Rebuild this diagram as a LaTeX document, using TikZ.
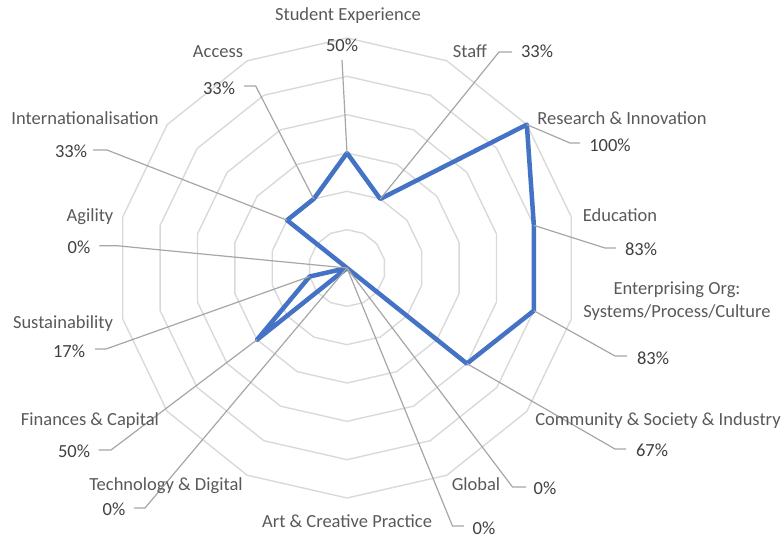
\documentclass[tikz,border=0pt]{standalone}
\usepackage{fontspec}
\setmainfont{Carlito}
\definecolor{gridc}{HTML}{D9D9D9}
\definecolor{leadc}{HTML}{A6A6A6}
\definecolor{txtc}{HTML}{595959}
\definecolor{valc}{HTML}{404040}
\definecolor{serc}{HTML}{4472C4}
\begin{document}
\begin{tikzpicture}[x=1pt,y=-1pt,
  gridline/.style={draw=gridc,line width=1.4pt},
  leader/.style={draw=leadc,line width=1.2pt},
  series/.style={draw=serc,line width=4.5pt,line join=round},
  cat/.style={text=txtc,font=\fontsize{18.5}{22}\selectfont,inner sep=0pt,text height=12pt,text depth=0pt,anchor=center},
  val/.style={cat,text=valc}]
\useasboundingbox (0,0) rectangle (784,535);
\coordinate (O) at (347,268);
\begin{scope}[shift={(O)}]
  \foreach \r in {1,...,6}
    \draw[gridline] (-90:{\r*230/6}) \foreach \k in {1,...,13} { -- ({-90+\k*360/14}:{\r*230/6}) } -- cycle;
  \foreach \v [count=\k from 0] in {3,2,6,5,5,4,0,0,0,3,1,0,2,2}
    \coordinate (p\k) at ({-90+\k*360/14}:{\v*230/6});
\end{scope}
\draw[series] (p0) -- (p1) -- (p2) -- (p3) -- (p4) -- (p5) -- (p6) -- (p7) -- (p8) -- (p9) -- (p10) -- (p11) -- (p12) -- (p13) -- cycle;
% leader points
\coordinate (a0) at (342,60);
\coordinate (a1) at (499,52);   \coordinate (b1) at (512,52);
\coordinate (a2) at (570,143);  \coordinate (b2) at (580,143);
\coordinate (a3) at (605,248);  \coordinate (b3) at (616,248);
\coordinate (a4) at (615,356);  \coordinate (b4) at (627,356);
\coordinate (a5) at (615,449);  \coordinate (b5) at (626,449);
\coordinate (a6) at (512.5,487);\coordinate (b6) at (526,487);
\coordinate (a7) at (452.5,526);\coordinate (b7) at (464,526);
\coordinate (a8) at (145,508);  \coordinate (b8) at (134,508);
\coordinate (a9) at (111,450);  \coordinate (b9) at (98.5,450);
\coordinate (a10) at (106,349); \coordinate (b10) at (95,349);
\coordinate (a11) at (116.7,245.7); \coordinate (b11) at (99.3,245.7);
\coordinate (a12) at (107,150); \coordinate (b12) at (93,150);
\coordinate (a13) at (255.7,86);\coordinate (b13) at (244,86);
\draw[leader] (p0) -- (a0);
\foreach \k in {1,...,13} \draw[leader] (p\k) -- (a\k) -- (b\k);
% category labels
\node[cat] (c0) at (348,15) {Student Experience};
\node[cat] (c1) at (470,52) {Staff};
\node[cat] (c2) at (622,118) {Research \& Innovation};
\node[cat] (c3) at (620,215) {Education};
\node[text=txtc,font=\fontsize{18.5}{22.3}\selectfont,inner sep=0pt,align=center,anchor=base] (c4) at (677,317) {Enterprising Org:\\Systems/Process/Culture};
\node[cat] (c5) at (658,419) {Community \& Society \& Industry};
\node[cat] (c6) at (476,484) {Global};
\node[cat] (c7) at (347,521) {Art \& Creative Practice};
\node[cat] (c8) at (166,484) {Technology \& Digital};
\node[cat] (c9) at (90,419) {Finances \& Capital};
\node[cat] (c10) at (63,322) {Sustainability};
\node[cat] (c11) at (90,215) {Agility};
\node[cat] (c12) at (85,118) {Internationalisation};
\node[cat] (c13) at (218,52) {Access};
% value labels
\node[val] (v0) at (342,46) {50\%};
\node[val] (v1) at (537,52) {33\%};
\node[val] (v2) at (610,145) {100\%};
\node[val] (v3) at (641,249) {83\%};
\node[val] (v4) at (653,358) {83\%};
\node[val] (v5) at (652,450) {67\%};
\node[val] (v6) at (545,488) {0\%};
\node[val] (v7) at (484,528) {0\%};
\node[val] (v8) at (114,509) {0\%};
\node[val] (v9) at (74,451) {50\%};
\node[val] (v10) at (69,351) {17\%};
\node[val] (v11) at (79,247) {0\%};
\node[val] (v12) at (71,151) {33\%};
\node[val] (v13) at (219,88) {33\%};
\end{tikzpicture}
\end{document}
